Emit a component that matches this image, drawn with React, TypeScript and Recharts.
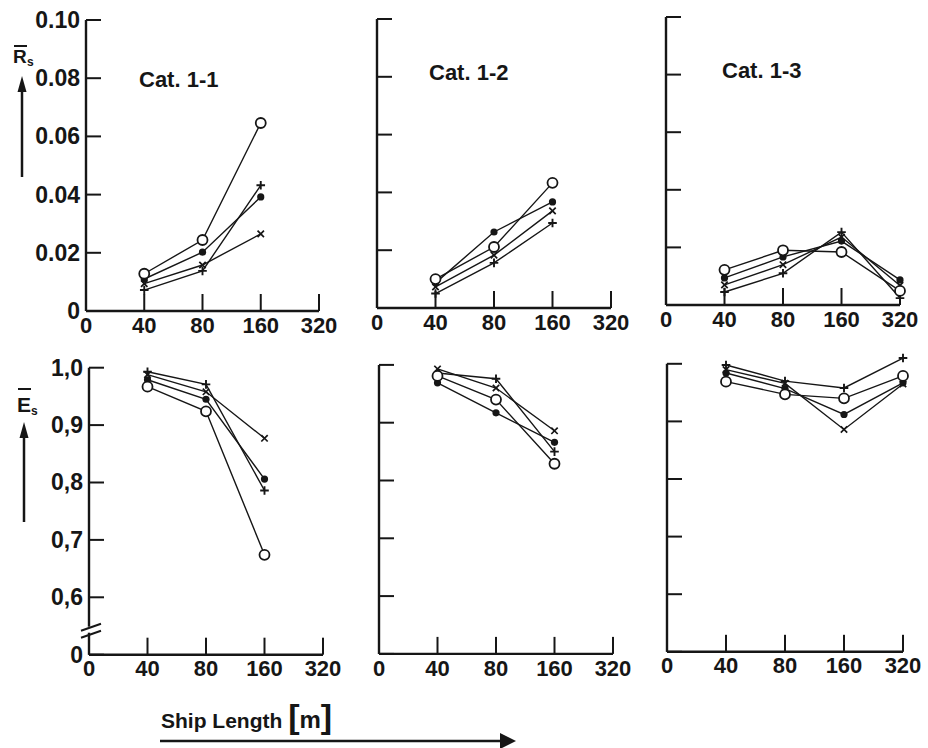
import { LineChart, Line, XAxis, YAxis, ReferenceLine } from "recharts";

/* ---------- DATA ---------- */

// x positions are indexes into shipLengths (equally spaced, log-like axis)
const shipLengths = ["0", "40", "80", "160", "320"];
const categories = ["Cat. 1-1", "Cat. 1-2", "Cat. 1-3"];

const rsTicks = [0, 0.02, 0.04, 0.06, 0.08, 0.1];
const rsTickLabels = ["0", "0.02", "0.04", "0.06", "0.08", "0.10"];
// bottom row has a broken axis: the lowest tick (0.5) is labelled "0"
const esTicks = [0.5, 0.6, 0.7, 0.8, 0.9, 1.0];
const esTickLabels = ["0", "0,6", "0,7", "0,8", "0,9", "1,0"];

const lengths3 = [1, 2, 3];
const lengths4 = [1, 2, 3, 4];

// R_s, Cat. 1-1
const rs11Open = [0.0128, 0.0244, 0.0646];
const rs11Dot = [0.0110, 0.0202, 0.0392];
const rs11Cross = [0.0094, 0.0158, 0.0265];
const rs11Plus = [0.0072, 0.0138, 0.0432];

// R_s, Cat. 1-2
const rs12Open = [0.0100, 0.0211, 0.0433];
const rs12Dot = [0.0087, 0.0263, 0.0367];
const rs12Cross = [0.0073, 0.0183, 0.0336];
const rs12Plus = [0.0050, 0.0156, 0.0294];

// R_s, Cat. 1-3
const rs13Open = [0.0122, 0.0190, 0.0184, 0.0049];
const rs13Dot = [0.0094, 0.0167, 0.0222, 0.0087];
const rs13Cross = [0.0070, 0.0140, 0.0236, 0.0068];
const rs13Plus = [0.0045, 0.0110, 0.0253, 0.0024];

// E_s, Cat. 1-1
const es11Open = [0.967, 0.924, 0.674];
const es11Dot = [0.979, 0.945, 0.806];
const es11Cross = [0.988, 0.958, 0.877];
const es11Plus = [0.993, 0.971, 0.786];

// E_s, Cat. 1-2
const es12Open = [0.981, 0.940, 0.829];
const es12Dot = [0.969, 0.917, 0.866];
const es12Cross = [0.993, 0.960, 0.886];
const es12Plus = [0.986, 0.976, 0.850];

// E_s, Cat. 1-3
const es13Open = [0.969, 0.947, 0.940, 0.979];
const es13Dot = [0.984, 0.957, 0.912, 0.967];
const es13Cross = [0.990, 0.966, 0.886, 0.965];
const es13Plus = [0.998, 0.970, 0.958, 1.010];

/* ---------- HELPERS ---------- */

const INK = "#161616";
const FONT = '"Liberation Sans", Arial, Helvetica, sans-serif';

function rows(xs: number[], open: number[], dot: number[], cross: number[], plus: number[]) {
  return xs.map((x, k) => ({ x, open: open[k], dot: dot[k], cross: cross[k], plus: plus[k] }));
}

function Marker({ cx, cy, kind }: any) {
  if (cx == null || cy == null) return null;
  if (kind === "open") {
    return <circle cx={cx} cy={cy} r={5} fill="#fff" stroke={INK} strokeWidth={1.8} />;
  }
  if (kind === "dot") {
    return <circle cx={cx} cy={cy} r={3.6} fill={INK} />;
  }
  if (kind === "cross") {
    const d = 3.2;
    return (
      <path
        d={`M${cx - d},${cy - d}L${cx + d},${cy + d}M${cx + d},${cy - d}L${cx - d},${cy + d}`}
        stroke={INK}
        strokeWidth={1.7}
      />
    );
  }
  const d = 4.3;
  return (
    <path d={`M${cx - d},${cy}H${cx + d}M${cx},${cy - d}V${cy + d}`} stroke={INK} strokeWidth={1.9} />
  );
}

// drawing order: open circles last so their white fill sits on top
const seriesKinds = ["plus", "cross", "dot", "open"];

/* ---------- LAYOUT ---------- */

const Y_W = 90;
const X_H = 46;
const M_TOP = 30;
const M_RIGHT = 40;

function YTick({ x, y, payload, labels, ticks, showBreak }: any) {
  const i = ticks.indexOf(payload.value);
  const label = labels ? labels[i] : "";
  const axisX = x + 6;
  return (
    <g>
      {label && (
        <text
          x={x}
          y={y}
          textAnchor="end"
          dominantBaseline="central"
          fill={INK}
          fontSize={23}
          fontWeight={700}
          fontFamily={FONT}
        >
          {label}
        </text>
      )}
      {showBreak && i === 0 && (
        <g stroke={INK} strokeWidth={2}>
          <rect x={axisX - 3} y={y - 28} width={6} height={6} fill="#fff" stroke="none" />
          <line x1={axisX - 8} y1={y - 24} x2={axisX + 12} y2={y - 31} />
          <line x1={axisX - 8} y1={y - 17} x2={axisX + 12} y2={y - 24} />
        </g>
      )}
    </g>
  );
}

function Panel({ box, data, yMin, yMax, plotMax, ticks, labels, showBreak }: any) {
  const scale = (box.bottomY - box.topY) / (yMax - yMin);
  const plotTop = box.topY - (plotMax - yMax) * scale;
  const left = box.axisX - Y_W;
  const top = plotTop - M_TOP;
  const width = Y_W + (box.rightX - box.axisX) + M_RIGHT;
  const height = M_TOP + (box.bottomY - plotTop) + X_H;

  return (
    <div style={{ position: "absolute", left, top }}>
      <LineChart width={width} height={height} data={data} margin={{ top: M_TOP, right: M_RIGHT, left: 0, bottom: 0 }}>
        <XAxis
          type="number"
          dataKey="x"
          domain={[0, 4]}
          ticks={[0, 1, 2, 3, 4]}
          tickFormatter={(v: number) => shipLengths[v]}
          height={X_H}
          axisLine={{ stroke: INK, strokeWidth: 2.4 }}
          tickLine={{ stroke: INK, strokeWidth: 2 }}
          tickSize={-17}
          tickMargin={23}
          tick={{ fill: INK, fontSize: 22, fontWeight: 700, fontFamily: FONT }}
          interval={0}
        />
        <YAxis
          type="number"
          domain={[yMin, plotMax]}
          ticks={ticks}
          width={Y_W}
          axisLine={false}
          tickLine={{ stroke: INK, strokeWidth: 2 }}
          tickSize={-15}
          tickMargin={21}
          interval={0}
          tick={(p: any) => <YTick {...p} labels={labels} ticks={ticks} showBreak={showBreak} />}
        />
        <ReferenceLine
          segment={[
            { x: 0, y: yMin },
            { x: 0, y: yMax },
          ]}
          stroke={INK}
          strokeWidth={2.4}
        />
        {seriesKinds.map((kind) => (
          <Line
            key={kind}
            dataKey={kind}
            type="linear"
            stroke={INK}
            strokeWidth={1.4}
            isAnimationActive={false}
            dot={(p: any) => <Marker key={`${kind}-${p.index}`} cx={p.cx} cy={p.cy} kind={kind} />}
            activeDot={false}
          />
        ))}
      </LineChart>
    </div>
  );
}

// pixel boxes of each panel's axes (layout only)
const topBoxes = [
  { axisX: 86, rightX: 319, topY: 20, bottomY: 311 },
  { axisX: 377, rightX: 611, topY: 19, bottomY: 308 },
  { axisX: 666, rightX: 900, topY: 17, bottomY: 305 },
];
const bottomBoxes = [
  { axisX: 89, rightX: 323, topY: 368, bottomY: 655 },
  { axisX: 379, rightX: 613, topY: 365, bottomY: 654 },
  { axisX: 667, rightX: 903, topY: 364, bottomY: 652 },
];

const titlePos = [
  { x: 139, y: 87 },
  { x: 429, y: 80 },
  { x: 722, y: 78 },
];

export default function App() {
  const rsData = [
    rows(lengths3, rs11Open, rs11Dot, rs11Cross, rs11Plus),
    rows(lengths3, rs12Open, rs12Dot, rs12Cross, rs12Plus),
    rows(lengths4, rs13Open, rs13Dot, rs13Cross, rs13Plus),
  ];
  const esData = [
    rows(lengths3, es11Open, es11Dot, es11Cross, es11Plus),
    rows(lengths3, es12Open, es12Dot, es12Cross, es12Plus),
    rows(lengths4, es13Open, es13Dot, es13Cross, es13Plus),
  ];

  return (
    <div
      style={{
        position: "absolute",
        left: 0,
        top: 0,
        width: 928,
        height: 748,
        background: "#fff",
        overflow: "hidden",
        fontFamily: FONT,
      }}
    >
      {rsData.map((d, k) => (
        <Panel
          key={`rs${k}`}
          box={topBoxes[k]}
          data={d}
          yMin={0}
          yMax={0.1}
          plotMax={0.1}
          ticks={rsTicks}
          labels={k === 0 ? rsTickLabels : null}
        />
      ))}
      {esData.map((d, k) => (
        <Panel
          key={`es${k}`}
          box={bottomBoxes[k]}
          data={d}
          yMin={0.5}
          yMax={1.0}
          plotMax={1.05}
          ticks={esTicks}
          labels={k === 0 ? esTickLabels : null}
          showBreak={k === 0}
        />
      ))}

      {/* ANNOTATIONS */}
      <svg width={928} height={748} style={{ position: "absolute", left: 0, top: 0, pointerEvents: "none" }}>
        <g fill={INK} fontFamily={FONT} fontWeight={700}>
          {categories.map((c, k) => (
            <text key={c} x={titlePos[k].x} y={titlePos[k].y} fontSize={22}>
              {c}
            </text>
          ))}

          {/* R_s label + arrow */}
          <text x={13} y={63} fontSize={19}>R</text>
          <line x1={14} y1={46} x2={27} y2={46} stroke={INK} strokeWidth={2} />
          <text x={27} y={66} fontSize={12}>s</text>
          <line x1={22} y1={177} x2={22} y2={88} stroke={INK} strokeWidth={2.5} />
          <polygon points="22,76 17.5,92 26.5,92" />

          {/* E_s label + arrow */}
          <text x={17} y={412} fontSize={21}>E</text>
          <line x1={18} y1={389} x2={31} y2={389} stroke={INK} strokeWidth={2} />
          <text x={31} y={415} fontSize={12}>s</text>
          <line x1={24} y1={522} x2={24} y2={434} stroke={INK} strokeWidth={2.5} />
          <polygon points="24,422 19.5,438 28.5,438" />

          {/* x axis title */}
          <text x={161} y={728} fontSize={21}>
            Ship Length{" "}
            <tspan fontSize={34}>[</tspan>
            <tspan fontSize={24}>m</tspan>
            <tspan fontSize={34}>]</tspan>
          </text>
          <line x1={160} y1={741} x2={503} y2={741} stroke={INK} strokeWidth={2.5} />
          <polygon points="516,741 500,733 500,749" />
        </g>
      </svg>
    </div>
  );
}
